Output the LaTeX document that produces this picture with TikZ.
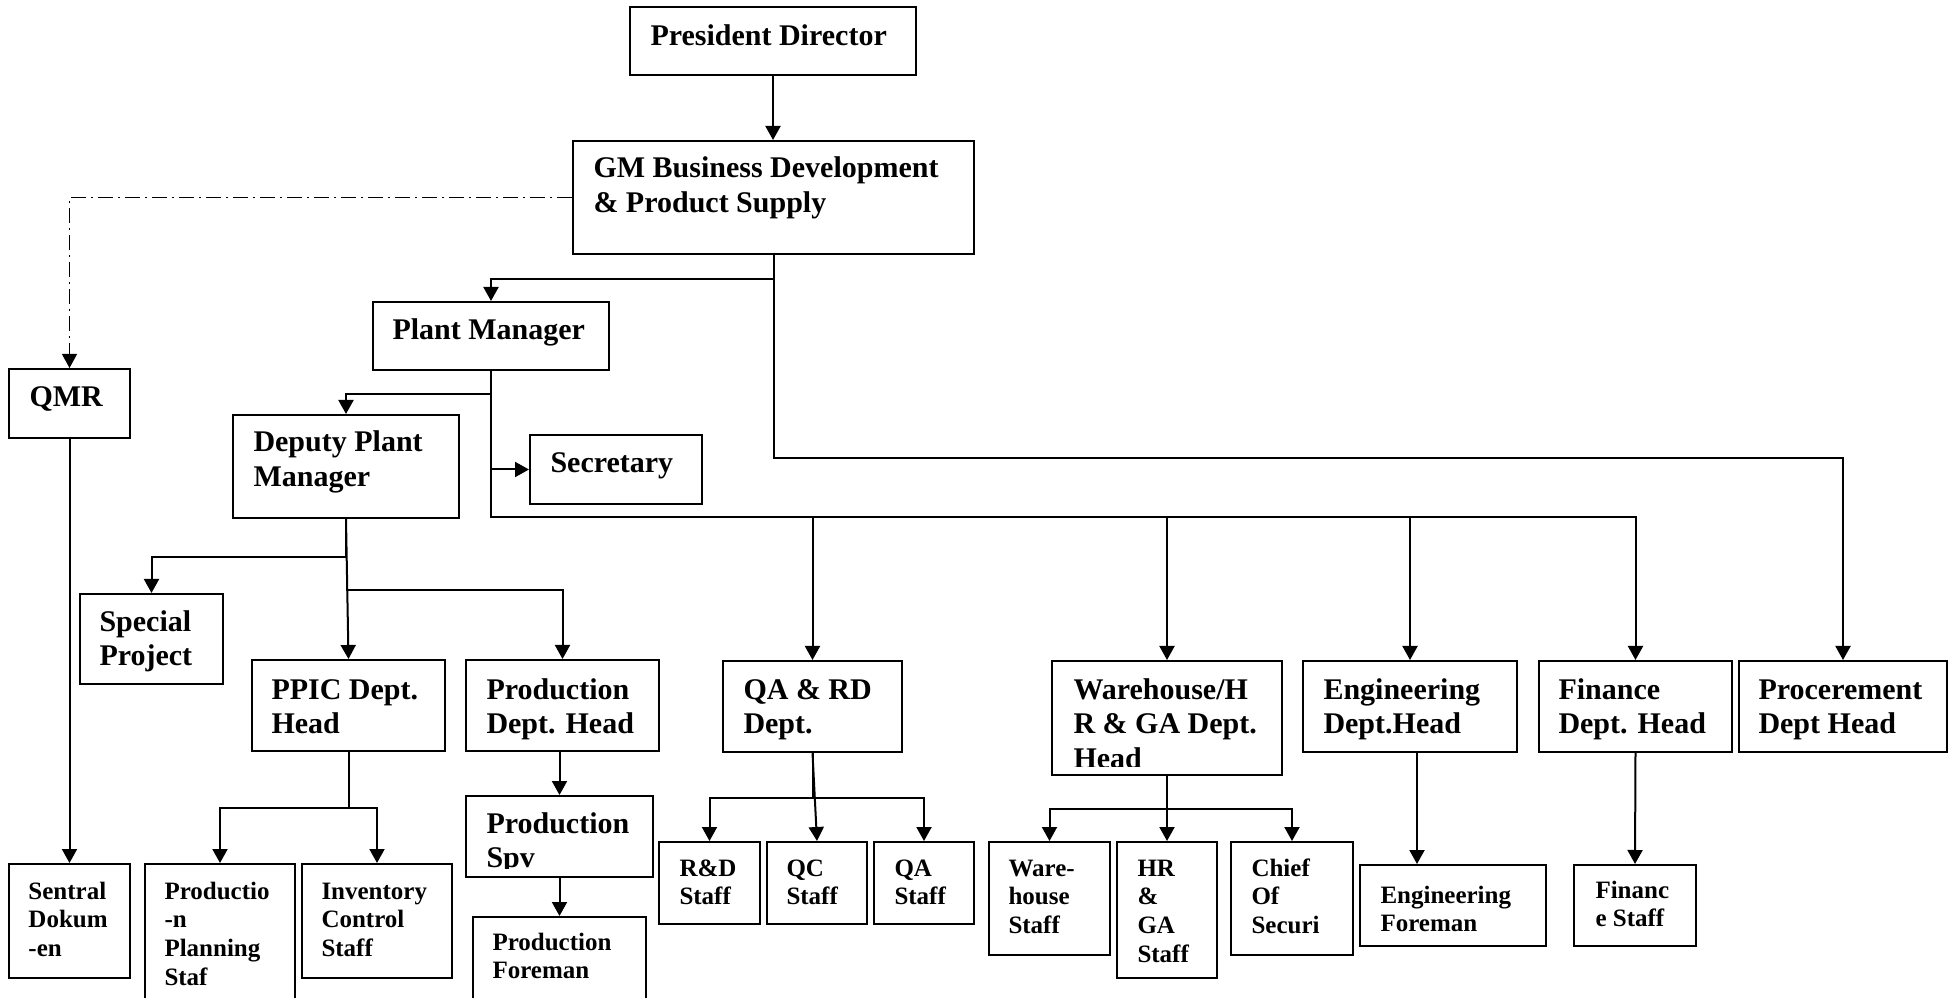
\documentclass[tikz,border=0pt]{standalone}
\usepackage{fontspec}
\setmainfont{Liberation Serif}
\usetikzlibrary{arrows.meta,calc,fit}

% box from two corners, text set from its first baseline, clipped like a text frame
\newcommand{\orgbox}[5][big]{%
  \node[box, fit={#3}] (#2) {};
  \begin{scope}
    \clip (#2.north west) rectangle ($(#2.south east)+(0,-10)$);
    \node[txt, #1] (#2-t) at #4 {\begin{tabular}[t]{@{}l@{}}#5\end{tabular}};
  \end{scope}}

\begin{document}
\begin{tikzpicture}[x=0.4pt, y=-0.4pt,
  box/.style={draw, line width=0.8pt, inner sep=0pt},
  txt/.style={anchor=base west, inner sep=0pt},
  big/.style={font=\bfseries\fontsize{12}{13.8}\selectfont},
  small/.style={font=\bfseries\fontsize{10}{11.5}\selectfont},
  link/.style={line width=0.8pt},
  arr/.style={link, -{Triangle[length=5.6pt, width=6pt]}},
  dotdash/.style={line width=0.5pt, dash pattern=on 6pt off 2pt on 0.8pt off 2pt,
    -{Triangle[length=5.6pt, width=6pt]}}]
  \useasboundingbox (0,0) rectangle (1954,998);

  % top levels
  \orgbox{pd}{(630,7) (916,75)}{(650,45.7)}{President Director}
  \orgbox{gm}{(573,141) (974,254)}{(593,178)}{GM Business Development\\\& Product Supply}
  \orgbox{pm}{(373,302) (609,370)}{(392,340)}{Plant Manager}
  \orgbox{qmr}{(9,369) (130,438)}{(29,407)}{QMR}
  \orgbox{dpm}{(233,415) (459,518)}{(253,452)}{Deputy Plant\\Manager}
  \orgbox{sec}{(530,435) (702,504)}{(550,473)}{Secretary}
  \orgbox{sp}{(80,594) (223,684)}{(99,631.5)}{Special\\Project}

  % department heads
  \orgbox{ppic}{(252,660) (445,751)}{(271,699)}{PPIC Dept.\\Head}
  \orgbox{prod}{(466,660) (659,751)}{(486,699)}{Production\\Dept. Head}
  \orgbox{spv}{(466,796) (653,877)}{(486,833)}{Production\\Spv}
  \orgbox{qard}{(723,661) (902,752)}{(743,699)}{QA \& RD\\Dept.}
  \orgbox{wh}{(1052,661) (1282,775)}{(1073,699)}{Warehouse/H\\R \& GA Dept.\\Head}
  \orgbox{eng}{(1303,661) (1517,752)}{(1323,699)}{Engineering\\Dept.Head}
  \orgbox{fin}{(1539,661) (1732,752)}{(1558,699)}{Finance\\Dept. Head}
  \orgbox{proc}{(1739,661) (1947,752)}{(1758,699)}{Procerement\\Dept Head}

  % staff
  \orgbox[small]{sd}{(9,864) (130,978)}{(28,899)}{Sentral\\Dokum\\-en}
  \orgbox[small]{pps}{(145,864) (295,1015)}{(164,899)}{Productio\\-n\\Planning\\Staf}
  \orgbox[small]{ics}{(302,864) (452,978)}{(321,899)}{Inventory\\Control\\Staff}
  \orgbox[small]{fore}{(473,917) (646,1015)}{(492,950)}{Production\\Foreman}
  \orgbox[small]{rd}{(659,842) (760,924)}{(679,876)}{R\&D\\Staff}
  \orgbox[small]{qc}{(767,842) (867,924)}{(786,876)}{QC\\Staff}
  \orgbox[small]{qas}{(874,842) (974,924)}{(894,876)}{QA\\Staff}
  \orgbox[small]{whs}{(989,842) (1110,955)}{(1008,876)}{Ware-\\house\\Staff}
  \orgbox[small]{hr}{(1117,842) (1217,978)}{(1137,876)}{HR\\\&\\GA\\Staff}
  \orgbox[small]{cos}{(1231,842) (1353,955)}{(1251,876)}{Chief\\Of\\Securi}
  \orgbox[small]{engf}{(1360,865) (1546,946)}{(1380,903)}{Engineering\\Foreman}
  \orgbox[small]{fs}{(1574,865) (1696,946)}{(1595,898)}{Financ\\e Staff}

  % connectors
  \draw[arr] (pd.south) -- (pd.south |- gm.north);
  \draw[dotdash] (gm.west) -| (qmr.north);
  \draw[arr] (gm.south) -- ++(0,24) -| (pm.north);
  \draw[arr] (gm.south) -- ++(0,203) -| (proc.north);

  \draw[arr] (pm.south) -- ++(0,23) -| (dpm.north);
  \draw[arr] (pm.south |- sec.west) -- (sec.west);
  \draw[arr] (pm.south) -- ++(0,146) coordinate (bus) -| (fin.north);
  \foreach \n in {qard,wh,eng}
    \draw[arr] (bus -| \n.north) -- (\n.north);

  \draw[arr] (dpm.south) -- ++(0,38) -| (sp.north);
  \draw[arr] (dpm.south) -- (ppic.north);
  \draw[arr] (dpm.south) ++(0,71) -| (prod.north);

  \draw[arr] (ppic.south) -- ++(0,56) -| (pps.north);
  \draw[arr] (ppic.south) ++(0,56) -| (ics.north);
  \draw[arr] (spv.north |- prod.south) -- (spv.north);
  \draw[arr] (spv.south) -- (fore.north);
  \draw[arr] (qmr.south) -- (sd.north);

  \draw[arr] (qard.south) -- ++(0,45) -| (rd.north);
  \draw[arr] (qard.south) ++(0,45) -| (qas.north);
  \draw[arr] (qard.south) -- (qc.north);

  \draw[arr] (wh.south) -- ++(0,33) -| (whs.north);
  \draw[arr] (wh.south) ++(0,33) -| (cos.north);
  \draw[arr] (wh.south) -- (hr.north);

  \draw[arr] ($(eng.south)+(7,0)$) coordinate (e1) -- (e1 |- engf.north);
  \draw[arr] (fin.south) -- (fs.north);
\end{tikzpicture}
\end{document}
